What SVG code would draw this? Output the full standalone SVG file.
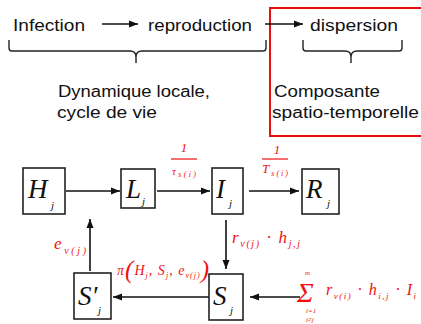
<svg xmlns="http://www.w3.org/2000/svg" width="421" height="324" viewBox="0 0 421 324">
<defs>
<style>
.t{font-family:"Liberation Sans",Arial,sans-serif;font-size:16px;fill:#111}
.m{font-family:"Liberation Serif","Times New Roman",serif;font-style:italic;fill:#111}
.r{font-family:"Liberation Serif","Times New Roman",serif;font-style:italic;fill:#f01010}
.box{fill:#fff;stroke:#222;stroke-width:1.6}
.ln{fill:none;stroke:#111;stroke-width:1.6}
.br{fill:none;stroke:#222;stroke-width:1.4}
</style>
<marker id="ah" markerWidth="10" markerHeight="8" refX="9" refY="4" orient="auto" markerUnits="userSpaceOnUse">
<path d="M0,0.5 L9,4 L0,7.5 Z" fill="#111"/>
</marker>
</defs>
<rect width="421" height="324" fill="#fff"/>

<g id="header">
<text class="t" x="13" y="31" textLength="72" lengthAdjust="spacingAndGlyphs">Infection</text>
<text class="t" x="148" y="31" textLength="104" lengthAdjust="spacingAndGlyphs">reproduction</text>
<text class="t" x="310" y="31" textLength="88" lengthAdjust="spacingAndGlyphs">dispersion</text>
<text class="t" x="58" y="97" textLength="152" lengthAdjust="spacingAndGlyphs">Dynamique locale,</text>
<text class="t" x="57" y="118" textLength="100" lengthAdjust="spacingAndGlyphs">cycle de vie</text>
<text class="t" x="274" y="97" textLength="106" lengthAdjust="spacingAndGlyphs">Composante</text>
<text class="t" x="272" y="118" textLength="147" lengthAdjust="spacingAndGlyphs">spatio-temporelle</text>
<path class="br" d="M9,40 L9,48 Q9,51 12,51 L130,51 Q136,51 136,57 L136,63 M136,57 Q136,51 142,51 L263,51 Q266,51 266,48 L266,40"/>
<path class="br" d="M303,40 L303,48 Q303,51 306,51 L345,51 Q351,51 351,57 L351,63 M351,57 Q351,51 357,51 L399,51 Q402,51 402,48 L402,40"/>
<rect x="270" y="8" width="160" height="128" fill="none" stroke="#e81010" stroke-width="2"/>
<line class="ln" x1="102" y1="24" x2="138" y2="24" marker-end="url(#ah)"/>
<line class="ln" x1="265" y1="24" x2="303" y2="24" marker-end="url(#ah)"/>
</g>

<g id="connectors">
<line class="ln" x1="66" y1="191" x2="120" y2="191" marker-end="url(#ah)"/>
<line class="ln" x1="157" y1="191" x2="210" y2="191" marker-end="url(#ah)"/>
<line class="ln" x1="249" y1="191" x2="299" y2="191" marker-end="url(#ah)"/>
<line class="ln" x1="226" y1="220" x2="226" y2="269" marker-end="url(#ah)"/>
<line class="ln" x1="300" y1="297" x2="250" y2="297" marker-end="url(#ah)"/>
<line class="ln" x1="209" y1="297" x2="113" y2="297" marker-end="url(#ah)"/>
<line class="ln" x1="90" y1="271" x2="90" y2="219" marker-end="url(#ah)"/>
</g>

<g id="H">
<rect class="box" x="23" y="168" width="42" height="46"/>
<text class="m" x="28" y="198" font-size="27">H</text>
<text class="m" x="51" y="209" font-size="11">j</text>
</g>
<g id="L">
<rect class="box" x="121" y="169" width="34" height="39"/>
<text class="m" x="126" y="198" font-size="27">L</text>
<text class="m" x="142" y="205" font-size="11">j</text>
</g>
<g id="I">
<rect class="box" x="212" y="168" width="31" height="46"/>
<text class="m" x="216" y="198" font-size="27">I</text>
<text class="m" x="229" y="207" font-size="11">j</text>
</g>
<g id="R">
<rect class="box" x="302" y="169" width="37" height="45"/>
<text class="m" x="306" y="198" font-size="27">R</text>
<text class="m" x="327" y="207" font-size="11">j</text>
</g>
<g id="S">
<rect class="box" x="209" y="274" width="34" height="46"/>
<text class="m" x="213" y="305" font-size="27">S</text>
<text class="m" x="230" y="314" font-size="11">j</text>
</g>
<g id="Sp">
<rect class="box" x="74" y="273" width="37" height="46"/>
<text class="m" x="78" y="305" font-size="27">S′</text>
<text class="m" x="98" y="314" font-size="11">j</text>
</g>

<g id="labels">
<text class="r" x="184" y="152" font-size="13" font-style="normal" text-anchor="middle">1</text>
<line x1="171" y1="159" x2="197" y2="159" stroke="#f01010" stroke-width="1.2"/>
<text class="r" x="172" y="175" font-size="11" textLength="24" lengthAdjust="spacing">τ<tspan font-size="8" dy="2">s(i)</tspan></text>
<text class="r" x="277" y="154" font-size="13" font-style="normal" text-anchor="middle">1</text>
<line x1="262" y1="159" x2="288" y2="159" stroke="#f01010" stroke-width="1.2"/>
<text class="r" x="262" y="173" font-size="13" textLength="26" lengthAdjust="spacing">T<tspan font-size="8" dy="3">s(i)</tspan></text>
<text class="r" x="54" y="249" font-size="17" textLength="32" lengthAdjust="spacing">e<tspan font-size="10" dy="5">v(j)</tspan></text>
<text class="r" x="117" y="275" font-size="14" textLength="92" lengthAdjust="spacing">π<tspan font-size="25" dy="3">(</tspan><tspan dy="-3">H</tspan><tspan font-size="8" dy="3">j</tspan><tspan dy="-3">, S</tspan><tspan font-size="8" dy="3">j</tspan><tspan dy="-3">, e</tspan><tspan font-size="8" dy="3">v(j)</tspan><tspan font-size="25" dy="0">)</tspan></text>
<text class="r" x="232" y="243" font-size="17" textLength="68" lengthAdjust="spacing">r<tspan font-size="10" dy="4">v(j)</tspan><tspan dy="-4"> · h</tspan><tspan font-size="10" dy="4">j,j</tspan></text>
<text class="r" x="297" y="302" font-size="28" font-style="normal">Σ</text>
<text class="r" x="305" y="275" font-size="7">m</text>
<text class="r" x="306" y="313" font-size="7">i=1</text>
<text class="r" x="306" y="322" font-size="7">i≠j</text>
<text class="r" x="326" y="295" font-size="16" textLength="90" lengthAdjust="spacing">r<tspan font-size="9" dy="4">v(i)</tspan><tspan dy="-4"> · h</tspan><tspan font-size="9" dy="4">i,j</tspan><tspan dy="-4"> · I</tspan><tspan font-size="9" dy="4">i</tspan></text>
</g>
</svg>
